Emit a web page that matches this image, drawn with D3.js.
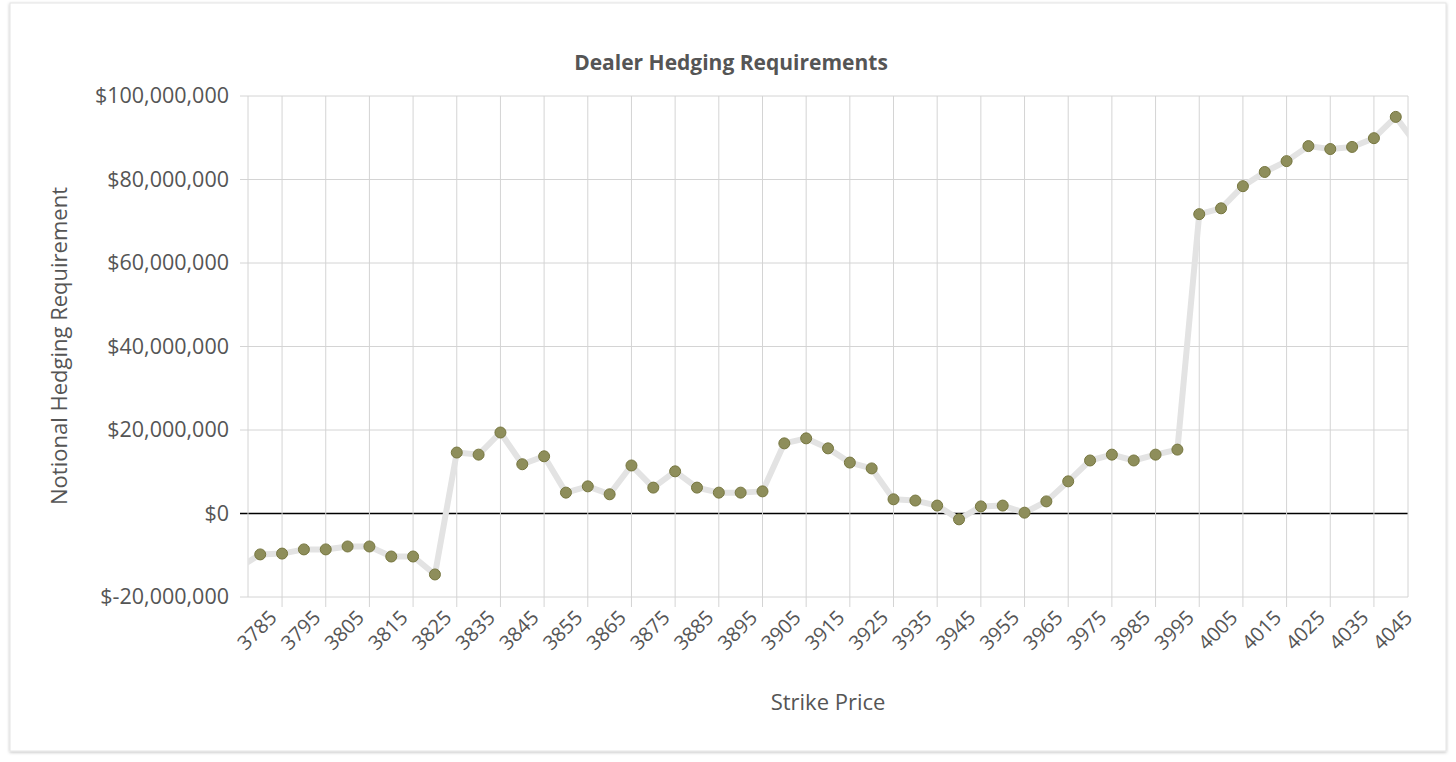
<!DOCTYPE html>
<html><head><meta charset="utf-8">
<script src="https://cdn.jsdelivr.net/npm/d3@7"></script>
<style>body{margin:0;background:#fff;font-family:"Open Sans",sans-serif;}</style>
</head><body>
<svg id="c" width="1456" height="762"></svg>
<script>
const strikes = d3.range(3775, 4050, 5);
const values = [-13.0,-9.8,-9.6,-8.6,-8.6,-7.9,-7.9,-10.3,-10.3,-14.6,14.6,14.1,19.4,11.8,13.7,5.0,6.5,4.6,11.5,6.2,10.1,6.2,5.0,5.0,5.3,16.8,18.0,15.6,12.2,10.8,3.4,3.1,1.9,-1.4,1.7,1.9,0.2,2.9,7.7,12.7,14.1,12.7,14.1,15.3,71.7,73.1,78.4,81.8,84.4,88.0,87.3,87.8,89.9,95.0,88.0];
const xTicks = d3.range(3785, 4046, 10);
const yTicks = [-20,0,20,40,60,80,100];

const svg = d3.select("#c");
const defs = svg.append("defs");
const f = defs.append("filter").attr("id","sh").attr("x","-5%").attr("y","-5%").attr("width","110%").attr("height","110%");
f.append("feDropShadow").attr("dx",0).attr("dy",1).attr("stdDeviation",1.5).attr("flood-color","#000").attr("flood-opacity",0.25);
svg.append("rect").attr("x",10).attr("y",3).attr("width",1436).attr("height",748).attr("fill","#fff").attr("stroke","#e4e4e4").attr("filter","url(#sh)");
defs.append("clipPath").attr("id","cp").append("rect").attr("x",248).attr("y",80).attr("width",1160).attr("height",540);

const L=248,R=1408,T=96,B=597;
const x = d3.scaleLinear().domain([3777.2,4042.8]).range([L,R]);
const y = d3.scaleLinear().domain([-20,100]).range([B,T]);
const fmt = v => (v<0?"$-":"$") + d3.format(",")(Math.abs(v)*1e6);

svg.append("g").selectAll("line").data(yTicks).join("line")
  .attr("x1",240).attr("x2",R).attr("y1",d=>y(d)).attr("y2",d=>y(d))
  .attr("stroke",d=>d===0?"#000":"#d4d4d4").attr("stroke-width",d=>d===0?1.5:1);
svg.append("g").selectAll("text").data(yTicks).join("text")
  .attr("x",229).attr("y",d=>y(d)+7).attr("text-anchor","end")
  .attr("font-size",21.5).attr("fill","#555").text(fmt);
const vg = svg.append("g").attr("clip-path","url(#cp)");
vg.selectAll("line").data(xTicks).join("line")
  .attr("x1",d=>x(d)).attr("x2",d=>x(d)).attr("y1",T).attr("y2",B+10)
  .attr("stroke","#d4d4d4");
svg.append("line").attr("x1",L).attr("x2",L).attr("y1",T).attr("y2",B).attr("stroke","#d4d4d4");
svg.append("line").attr("x1",R).attr("x2",R).attr("y1",T).attr("y2",B).attr("stroke","#d4d4d4");
svg.append("g").selectAll("text").data(xTicks).join("text")
  .attr("transform",d=>`translate(${x(d)-4},${B+22}) rotate(-45)`)
  .attr("text-anchor","end").attr("font-size",20).attr("fill","#555").text(d=>d);

const data = strikes.map((s,i)=>({s,v:values[i]}));
const g = svg.append("g").attr("clip-path","url(#cp)");
g.append("path").datum(data).attr("fill","none").attr("stroke","#e3e3e3").attr("stroke-width",6)
  .attr("stroke-linejoin","round").attr("d",d3.line().x(d=>x(d.s)).y(d=>y(d.v)));
g.selectAll("circle").data(data).join("circle")
  .attr("cx",d=>x(d.s)).attr("cy",d=>y(d.v)).attr("r",5.5)
  .attr("fill","#8e8e5b").attr("stroke","#76763f").attr("stroke-width",1);

svg.append("text").attr("x",731).attr("y",70).attr("text-anchor","middle")
  .attr("font-size",21).attr("font-weight","bold").attr("fill","#555").text("Dealer Hedging Requirements");
svg.append("text").attr("x",828).attr("y",710).attr("text-anchor","middle")
  .attr("font-size",22).attr("fill","#555").text("Strike Price");
svg.append("text").attr("transform","translate(67,346) rotate(-90)").attr("text-anchor","middle")
  .attr("font-size",22).attr("fill","#555").text("Notional Hedging Requirement");
</script>
</body></html>
